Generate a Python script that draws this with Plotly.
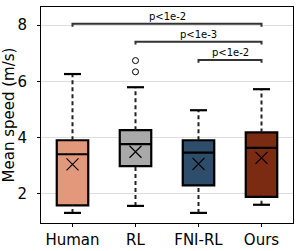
import plotly.graph_objects as go

categories = ["Human", "RL", "FNI-RL", "Ours"]
lower_whisker = [1.31, 1.56, 1.31, 1.60]
q1 = [1.58, 2.98, 2.29, 1.88]
median = [3.40, 3.76, 3.46, 3.63]
q3 = [3.90, 4.26, 3.90, 4.18]
upper_whisker = [6.26, 5.79, 4.97, 5.72]
means = [3.04, 3.49, 3.06, 3.27]
outliers = {"RL": [6.74, 6.34]}
colors = ["#E3977B", "#A9A9A9", "#2E4D6A", "#7B2B12"]

brackets = [("Human", "Ours", 8.05, "p<1e-2"),
            ("RL", "Ours", 7.41, "p<1e-3"),
            ("FNI-RL", "Ours", 6.76, "p<1e-2")]

FONT = "DejaVu Sans"
fig = go.Figure()
shapes = []
hw = 0.25
cw = 0.135
for i, c in enumerate(categories):
    shapes.append(dict(type="rect", xref="x", yref="y", x0=i - hw, x1=i + hw, y0=q1[i], y1=q3[i],
                       fillcolor=colors[i], line=dict(color="black", width=2.2), layer="between"))
    shapes.append(dict(type="line", xref="x", yref="y", x0=i - hw, x1=i + hw, y0=median[i], y1=median[i],
                       line=dict(color="black", width=2.2), layer="between"))
    shapes.append(dict(type="line", xref="x", yref="y", x0=i, x1=i, y0=q3[i], y1=upper_whisker[i],
                       line=dict(color="#222222", width=2, dash="4px,3px"), layer="between"))
    shapes.append(dict(type="line", xref="x", yref="y", x0=i, x1=i, y0=lower_whisker[i], y1=q1[i],
                       line=dict(color="#222222", width=2, dash="4px,3px"), layer="between"))
    for v in (upper_whisker[i], lower_whisker[i]):
        shapes.append(dict(type="line", xref="x", yref="y", x0=i - cw, x1=i + cw, y0=v, y1=v,
                           line=dict(color="black", width=2.2), layer="between"))

fig.add_trace(go.Scatter(x=list(range(len(categories))), y=means, mode="markers",
                         marker=dict(symbol="x-thin", size=12, color="black",
                                     line=dict(color="black", width=1.2)),
                         showlegend=False, hoverinfo="skip"))
ox, oy = [], []
for c, vals in outliers.items():
    for v in vals:
        ox.append(categories.index(c))
        oy.append(v)
fig.add_trace(go.Scatter(x=ox, y=oy, mode="markers",
                         marker=dict(symbol="circle-open", size=6, color="black",
                                     line=dict(color="black", width=1)),
                         showlegend=False, hoverinfo="skip"))

annotations = []
tick = 0.1
for a, b, y, txt in brackets:
    xa, xb = categories.index(a), categories.index(b)
    fig.add_trace(go.Scatter(x=[xa, xa, xb, xb], y=[y - tick, y, y, y - tick], mode="lines",
                             line=dict(color="#333333", width=2), showlegend=False, hoverinfo="skip"))
    annotations.append(dict(x=(xa + xb) / 2, y=y, xref="x", yref="y", text=txt, showarrow=False,
                            yanchor="bottom", yshift=0, font=dict(family=FONT, size=10, color="black")))

fig.update_layout(
    width=300, height=251,
    margin=dict(l=41, r=7, t=7, b=28),
    plot_bgcolor="white", paper_bgcolor="white",
    shapes=shapes, annotations=annotations,
    font=dict(family=FONT, size=14, color="black"),
    hovermode=False,
    xaxis=dict(range=[-0.5, 3.5], tickvals=list(range(len(categories))), ticktext=categories,
               showgrid=False, zeroline=False, showline=True, linecolor="black", linewidth=1,
               mirror=True, ticks="outside", ticklen=3, tickcolor="black",
               automargin=False, tickfont=dict(family=FONT, size=15)),
    yaxis=dict(range=[0.95, 8.65], tickvals=[2, 4, 6, 8], showgrid=True, gridcolor="#DDDDDD",
               gridwidth=1, zeroline=False, showline=True, linecolor="black", linewidth=1,
               mirror=True, ticks="outside", ticklen=3, tickcolor="black", ticklabelstandoff=7,
               automargin=False, tickfont=dict(family=FONT, size=15),
               title=dict(text="Mean speed (m/s)", font=dict(family=FONT, size=15), standoff=4)),
)

fig.write_html("out.html", config={"displayModeBar": False},
               post_script="document.body.style.margin='0';")
